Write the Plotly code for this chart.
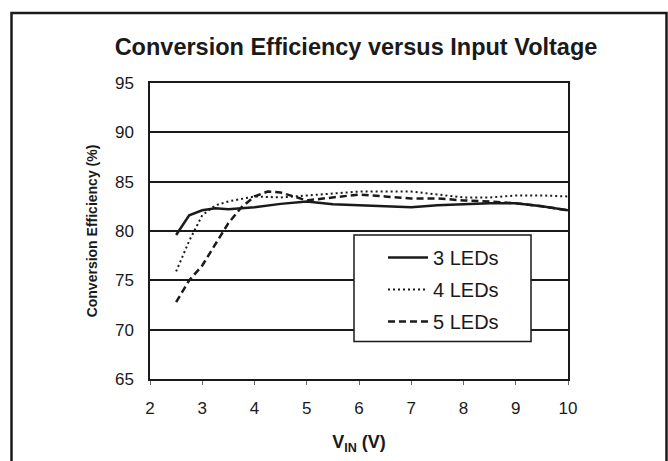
import plotly.graph_objects as go

# Data
vin_3 = [2.5, 2.75, 3.0, 3.25, 3.5, 4.0, 4.5, 5.0, 5.5, 6.0, 6.5, 7.0, 7.5, 8.0, 8.5, 9.0, 9.5, 10.0]
eff_3 = [79.6, 81.6, 82.1, 82.3, 82.2, 82.4, 82.75, 83.0, 82.7, 82.6, 82.5, 82.4, 82.6, 82.7, 82.8, 82.8, 82.5, 82.1]

vin_4 = [2.5, 2.75, 3.0, 3.25, 3.5, 4.0, 4.5, 5.0, 5.5, 6.0, 6.5, 7.0, 7.5, 8.0, 8.5, 9.0, 9.5, 10.0]
eff_4 = [75.9, 79.0, 81.6, 82.6, 83.0, 83.5, 83.4, 83.6, 83.8, 84.0, 84.0, 84.0, 83.7, 83.4, 83.4, 83.6, 83.6, 83.5]

vin_5 = [2.5, 2.75, 3.0, 3.25, 3.5, 3.75, 4.0, 4.25, 4.5, 5.0, 5.5, 6.0, 6.5, 7.0, 7.5, 8.0, 8.5, 9.0, 9.5, 10.0]
eff_5 = [72.8, 75.0, 76.5, 78.6, 80.8, 82.4, 83.5, 84.0, 83.9, 83.1, 83.4, 83.7, 83.5, 83.3, 83.3, 83.1, 83.0, 82.8, 82.5, 82.1]

series_names = ["3 LEDs", "4 LEDs", "5 LEDs"]
x_ticks = [2, 3, 4, 5, 6, 7, 8, 9, 10]
y_ticks = [65, 70, 75, 80, 85, 90, 95]

INK = "#1a1a1a"
FONT = "Liberation Sans, Arial, sans-serif"

fig = go.Figure()
fig.add_trace(go.Scatter(x=vin_3, y=eff_3, mode="lines", name=series_names[0], legendgroup="a",
                         line=dict(color=INK, width=2.5, dash="solid")))
fig.add_trace(go.Scatter(x=vin_4, y=eff_4, mode="lines", name=series_names[1], legendgroup="b",
                         line=dict(color=INK, width=2, dash="2px,3px")))
fig.add_trace(go.Scatter(x=vin_5, y=eff_5, mode="lines", name=series_names[2], legendgroup="c",
                         line=dict(color=INK, width=2.5, dash="7px,4px")))

W, H = 668, 461
L, R, T, B = 150, 100, 83, 78
pw, ph = W - L - R, H - T - B

def px_x(px):
    return (px - L) / pw

def px_y(py):
    return (H - B - py) / ph

fig.update_layout(
    width=W, height=H,
    margin=dict(l=L, r=R, t=T, b=B, pad=0),
    paper_bgcolor="white", plot_bgcolor="white",
    font=dict(family=FONT, color=INK, size=17),
    title=dict(text="<b>Conversion Efficiency versus Input Voltage</b>",
               x=px_x(356), xref="paper", xanchor="center",
               y=1 - 47 / H, yref="container", yanchor="middle",
               font=dict(size=23.5, family=FONT, color=INK)),
    xaxis=dict(range=[2, 10], tickvals=x_ticks, ticktext=[str(v) for v in x_ticks],
               showgrid=False, zeroline=False, showline=True, linecolor=INK, linewidth=1.5,
               mirror=True, ticks="outside", ticklen=4, tickwidth=1, tickcolor="#666",
               ticklabelstandoff=9, tickfont=dict(size=17), fixedrange=True,
               title=dict(text="<b>V<sub>IN</sub> (V)</b>", font=dict(size=18), standoff=18)),
    yaxis=dict(range=[65, 95], tickvals=y_ticks, ticktext=[str(v) for v in y_ticks],
               showgrid=True, gridcolor=INK, gridwidth=1.5, zeroline=False,
               showline=True, linecolor=INK, linewidth=1.5, mirror=True,
               ticks="", ticklabelstandoff=11, tickfont=dict(size=17), fixedrange=True,
               title=dict(text="<b>Conversion Efficiency (%)</b>", font=dict(size=14), standoff=14)),
    showlegend=True,
    legend=dict(x=px_x(383), y=px_y(240), xanchor="left", yanchor="top",
                bgcolor="rgba(0,0,0,0)", borderwidth=0,
                traceorder="grouped", tracegroupgap=3,
                font=dict(size=20, family=FONT, color=INK), itemwidth=40),
    shapes=[
        # legend box
        dict(type="rect", xref="paper", yref="paper",
             x0=px_x(354), x1=px_x(531), y0=px_y(345), y1=px_y(237),
             line=dict(color=INK, width=1.5), fillcolor="white", layer="above"),
        # outer frame
        dict(type="rect", xref="paper", yref="paper",
             x0=px_x(11.5), x1=px_x(666.5), y0=px_y(475), y1=px_y(12),
             line=dict(color=INK, width=2.5), fillcolor="rgba(0,0,0,0)", layer="above"),
    ],
)

fig.write_html("out.html", config={"displayModeBar": False},
               post_script="document.body.style.margin='0px';document.body.style.padding='0px';document.body.style.overflow='hidden';")
